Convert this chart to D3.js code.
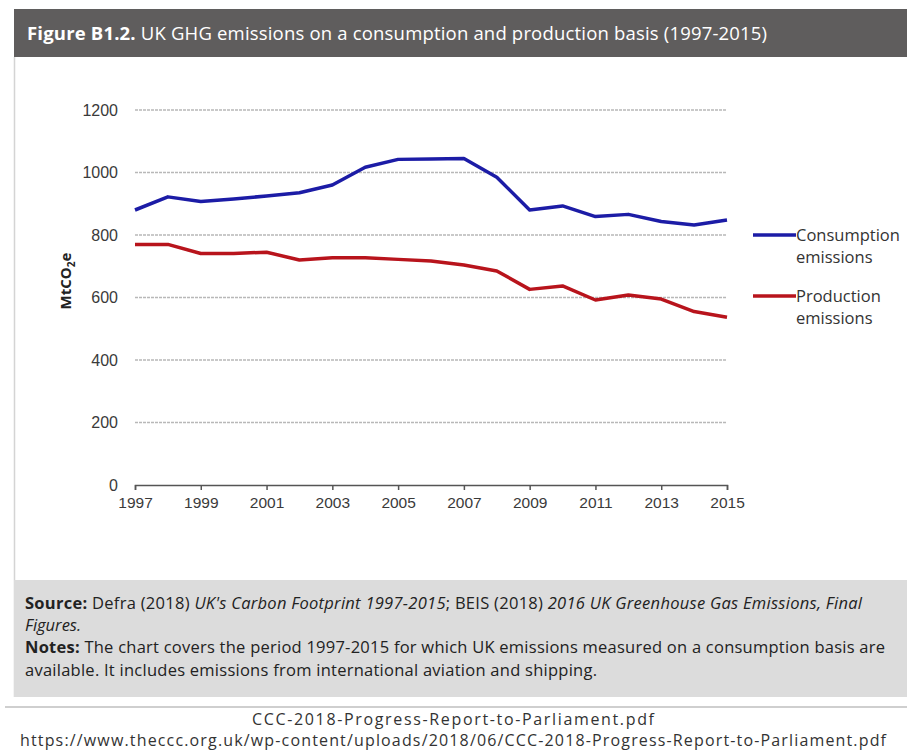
<!DOCTYPE html>
<html>
<head>
<meta charset="utf-8">
<script src="https://cdn.jsdelivr.net/npm/d3@7"></script>
<style>
  body { margin: 0; background: #fff; }
  svg { display: block; font-family: "Open Sans", "Noto Sans", sans-serif; }
</style>
</head>
<body>
<script>
// data
var years = [1997, 1998, 1999, 2000, 2001, 2002, 2003, 2004, 2005, 2006, 2007, 2008, 2009, 2010, 2011, 2012, 2013, 2014, 2015];
var consumption = [880, 922, 907, 915, 925, 935, 960, 1017, 1042, 1043, 1045, 985, 880, 893, 859, 866, 843, 832, 848];
var production = [770, 770, 741, 741, 745, 720, 727, 727, 722, 717, 704, 685, 626, 637, 592, 608, 595, 555, 537];
var yTicks = [0, 200, 400, 600, 800, 1000, 1200];
var xTicks = [1997, 1999, 2001, 2003, 2005, 2007, 2009, 2011, 2013, 2015];
var seriesNames = [["Consumption", "emissions"], ["Production", "emissions"]];
var seriesColors = ["#1c1ca6", "#b8141c"];

var w = 907, h = 751;

var svg = d3.select("body").append("svg")
  .attr("width", w)
  .attr("height", h);

// frame: title bar, chart panel, notes box
svg.append("rect").attr("x", 14).attr("y", 9).attr("width", w - 14).attr("height", 48).attr("fill", "#5f5d5d");
svg.append("line").attr("x1", 14.5).attr("x2", 14.5).attr("y1", 57).attr("y2", 697).attr("stroke", "#d4d4d4").attr("stroke-width", 1.5);
svg.append("rect").attr("x", 14).attr("y", 580).attr("width", w - 14).attr("height", 117).attr("fill", "#dcdcdc");
svg.append("line").attr("x1", 5).attr("x2", w).attr("y1", 707).attr("y2", 707).attr("stroke", "#cfcfcf").attr("stroke-width", 2);

var title = svg.append("text").attr("x", 27).attr("y", 40).attr("fill", "#fff").style("font-size", "18.5px")
  .attr("textLength", 740).attr("lengthAdjust", "spacing");
title.append("tspan").attr("font-weight", "bold").text("Figure B1.2.");
title.append("tspan").text(" UK GHG emissions on a consumption and production basis (1997-2015)");

//scales
var x = d3.scaleLinear().domain([1997, 2015]).range([135, 727]);
var y = d3.scaleLinear().domain([0, 1200]).range([485, 110]);

// gridlines
svg.append("g")
  .selectAll("line")
  .data(yTicks.filter(function(d) { return d > 0; }))
  .enter()
  .append("line")
  .attr("x1", x(1997))
  .attr("x2", x(2015))
  .attr("y1", function(d) { return y(d); })
  .attr("y2", function(d) { return y(d); })
  .attr("stroke", "#b8b8b8")
  .attr("stroke-width", 1.5)
  .attr("stroke-dasharray", "3,1");

// y axis labels
var yAxis = svg.append("g")
  .attr("transform", "translate(" + x(1997) + ",0)")
  .call(d3.axisLeft(y).tickValues(yTicks).tickFormat(d3.format("d")).tickSize(0).tickPadding(17));
yAxis.select(".domain").remove();
yAxis.selectAll("text").attr("fill", "#3a3a3a").style("font-size", "16px");

// x axis
var xAxis = svg.append("g")
  .attr("transform", "translate(0," + y(0) + ")")
  .call(d3.axisBottom(x).tickValues(xTicks).tickFormat(d3.format("d")).tickSizeOuter(0).tickSize(5).tickPadding(7));
xAxis.select(".domain").attr("stroke", "#555").attr("stroke-width", 1.5);
xAxis.selectAll(".tick line").attr("stroke", "#555").attr("stroke-width", 1.5);
xAxis.selectAll("text").attr("fill", "#3a3a3a").style("font-size", "15.5px");

// y axis title
var yTitle = svg.append("text")
  .attr("transform", "translate(71,281) rotate(-90)")
  .attr("text-anchor", "middle")
  .attr("fill", "#222")
  .attr("font-weight", "bold")
  .style("font-size", "15px");
yTitle.append("tspan").text("MtCO");
yTitle.append("tspan").attr("dy", 4).style("font-size", "10px").text("2");
yTitle.append("tspan").attr("dy", -4).text("e");

// lines
var line = d3.line()
  .x(function(d, i) { return x(years[i]); })
  .y(function(d) { return y(d); });

[consumption, production].forEach(function(s, i) {
  svg.append("path")
    .datum(s)
    .attr("d", line)
    .attr("fill", "none")
    .attr("stroke", seriesColors[i])
    .attr("stroke-width", 3.5)
    .attr("stroke-linejoin", "round");
});

// legend
var legendY = [235, 296];
seriesNames.forEach(function(n, i) {
  var g = svg.append("g");
  g.append("line")
    .attr("x1", 753).attr("x2", 796)
    .attr("y1", legendY[i]).attr("y2", legendY[i])
    .attr("stroke", seriesColors[i])
    .attr("stroke-width", 3.5);
  g.append("text").attr("x", 796).attr("y", legendY[i] + 6).attr("fill", "#333").style("font-size", "16.5px").text(n[0]);
  g.append("text").attr("x", 796).attr("y", legendY[i] + 28).attr("fill", "#333").style("font-size", "16.5px").text(n[1]);
});

// notes
var notes = svg.append("g").attr("fill", "#222").style("font-size", "16.5px");
var l1 = notes.append("text").attr("x", 25).attr("y", 609).attr("textLength", 837).attr("lengthAdjust", "spacing");
l1.append("tspan").attr("font-weight", "bold").text("Source:");
l1.append("tspan").text(" Defra (2018) ");
l1.append("tspan").attr("font-style", "italic").text("UK's Carbon Footprint 1997-2015");
l1.append("tspan").text("; BEIS (2018) ");
l1.append("tspan").attr("font-style", "italic").text("2016 UK Greenhouse Gas Emissions, Final");
notes.append("text").attr("x", 25).attr("y", 631).attr("font-style", "italic").text("Figures.");
var l3 = notes.append("text").attr("x", 25).attr("y", 653).attr("textLength", 860).attr("lengthAdjust", "spacing");
l3.append("tspan").attr("font-weight", "bold").text("Notes:");
l3.append("tspan").text(" The chart covers the period 1997-2015 for which UK emissions measured on a consumption basis are");
notes.append("text").attr("x", 25).attr("y", 676).attr("textLength", 572).attr("lengthAdjust", "spacing")
  .text("available. It includes emissions from international aviation and shipping.");

// page footer
svg.append("text").attr("x", 453).attr("y", 725).attr("text-anchor", "middle").attr("fill", "#333").style("font-size", "16px")
  .attr("textLength", 402).attr("lengthAdjust", "spacing")
  .text("CCC-2018-Progress-Report-to-Parliament.pdf");
svg.append("text").attr("x", 453).attr("y", 746).attr("text-anchor", "middle").attr("fill", "#333").style("font-size", "16px")
  .attr("textLength", 866).attr("lengthAdjust", "spacing")
  .text("https://www.theccc.org.uk/wp-content/uploads/2018/06/CCC-2018-Progress-Report-to-Parliament.pdf");
</script>
</body>
</html>
